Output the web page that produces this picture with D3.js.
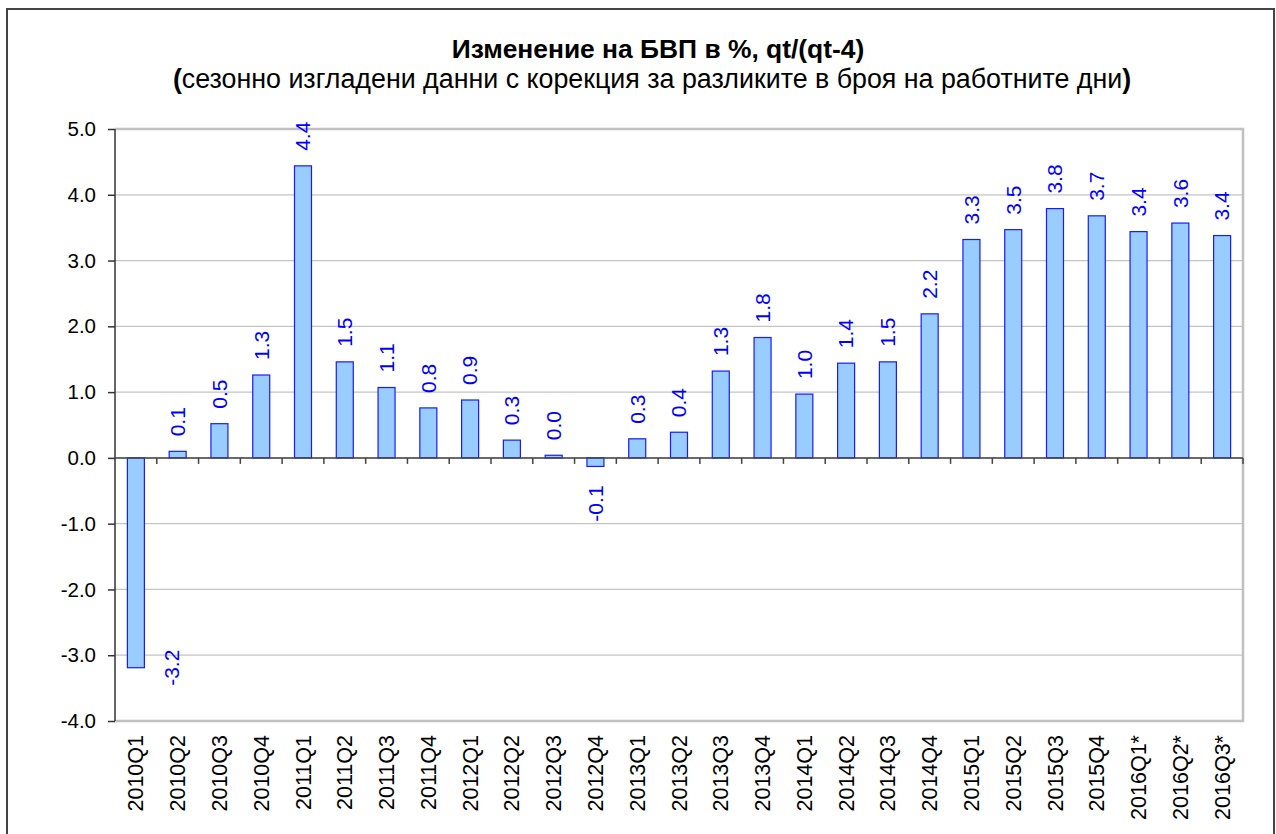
<!DOCTYPE html>
<html>
<head>
<meta charset="utf-8">
<script src="https://cdn.jsdelivr.net/npm/d3@7"></script>
<style>
  body { margin: 0; background: #fff; }
  svg { display: block; font-family: Arial, "Liberation Sans", sans-serif; }
</style>
</head>
<body>
<div id="chart"></div>
<script>
const width = 1276;
const height = 834;

// quarters on the x axis
const quarters = [
  '2010Q1', '2010Q2', '2010Q3', '2010Q4',
  '2011Q1', '2011Q2', '2011Q3', '2011Q4',
  '2012Q1', '2012Q2', '2012Q3', '2012Q4',
  '2013Q1', '2013Q2', '2013Q3', '2013Q4',
  '2014Q1', '2014Q2', '2014Q3', '2014Q4',
  '2015Q1', '2015Q2', '2015Q3', '2015Q4',
  '2016Q1*', '2016Q2*', '2016Q3*'
];

// GDP change, % y/y
const gdpChange = [
  -3.19, 0.10, 0.52, 1.26,
  4.44, 1.46, 1.07, 0.76,
  0.88, 0.27, 0.04, -0.13,
  0.29, 0.39, 1.32, 1.83,
  0.97, 1.44, 1.46, 2.19,
  3.32, 3.47, 3.79, 3.68,
  3.44, 3.57, 3.38
];

const yTicks = [-4, -3, -2, -1, 0, 1, 2, 3, 4, 5];

const title = 'Изменение на БВП в %, qt/(qt-4)';
const subtitle = 'сезонно изгладени данни с корекция за разликите в броя на работните дни';

const data = quarters.map((q, i) => ({ q, v: gdpChange[i] }));

// plain hyphen as minus sign, like the original
const locale = d3.formatLocale({
  decimal: '.', thousands: ',', grouping: [3], currency: ['', ''], minus: '-'
});
const fmt = locale.format('.1f');

function drawChart() {
  const plot = { left: 115, right: 1243, top: 129, bottom: 721 };

  const svg = d3.select('#chart')
    .append('svg')
    .attr('width', width)
    .attr('height', height);

  // outer chart border
  svg.append('rect')
    .attr('x', 7).attr('y', 9)
    .attr('width', 1267).attr('height', 850)
    .attr('fill', '#fff')
    .attr('stroke', '#444')
    .attr('stroke-width', 2);

  // titles
  svg.append('text')
    .attr('x', 658).attr('y', 58)
    .attr('text-anchor', 'middle')
    .style('font-size', '26.4px')
    .style('font-weight', 'bold')
    .text(title);

  const sub = svg.append('text')
    .attr('x', 652).attr('y', 88)
    .attr('text-anchor', 'middle')
    .style('font-size', '26.8px');
  sub.append('tspan').style('font-weight', 'bold').text('(');
  sub.append('tspan').text(subtitle);
  sub.append('tspan').style('font-weight', 'bold').text(')');

  const xScale = d3.scaleBand()
    .domain(quarters)
    .range([plot.left, plot.right])
    .paddingInner(0.593)
    .paddingOuter(0.2965);

  const yScale = d3.scaleLinear()
    .domain([-4, 5])
    .range([plot.bottom, plot.top]);

  // grid lines
  svg.append('g')
    .attr('class', 'grid')
    .selectAll('line')
    .data(yTicks)
    .join('line')
    .attr('x1', plot.left).attr('x2', plot.right)
    .attr('y1', d => yScale(d)).attr('y2', d => yScale(d))
    .attr('stroke', '#c4c4c4')
    .attr('stroke-width', 1.2);

  // plot area border (top, right, bottom)
  svg.append('path')
    .attr('d', `M${plot.left},${plot.top}H${plot.right}V${plot.bottom}H${plot.left}`)
    .attr('fill', 'none')
    .attr('stroke', '#c0c0c0')
    .attr('stroke-width', 2.5);

  // bars
  svg.append('g')
    .attr('class', 'bars')
    .selectAll('rect')
    .data(data)
    .join('rect')
    .attr('x', d => xScale(d.q))
    .attr('width', xScale.bandwidth())
    .attr('y', d => yScale(Math.max(0, d.v)))
    .attr('height', d => Math.abs(yScale(d.v) - yScale(0)))
    .attr('fill', '#99ccff')
    .attr('stroke', '#1a1aff')
    .attr('stroke-width', 1.2);

  // y axis
  const yAxis = d3.axisLeft(yScale)
    .tickValues(yTicks)
    .tickSize(7)
    .tickPadding(12)
    .tickFormat(fmt);

  svg.append('g')
    .attr('class', 'y-axis')
    .attr('transform', `translate(${plot.left},0)`)
    .call(yAxis)
    .call(g => g.selectAll('path, line').attr('stroke', '#333').attr('stroke-width', 1.5))
    .call(g => g.select('.domain').attr('d', `M0,${plot.top}V${plot.bottom}`))
    .call(g => g.selectAll('text')
      .attr('fill', '#000')
      .style('font-size', '20.5px')
      .style('font-family', 'Arial, "Liberation Sans", sans-serif'));

  // category axis on the zero line, ticks between categories
  const step = xScale.step();
  const bounds = quarters.map(q => xScale(q) + xScale.bandwidth() / 2 - step / 2);
  bounds.push(plot.right);

  const zeroY = yScale(0);
  const xAxisG = svg.append('g').attr('class', 'x-axis');
  xAxisG.append('line')
    .attr('x1', plot.left).attr('x2', plot.right)
    .attr('y1', zeroY).attr('y2', zeroY)
    .attr('stroke', '#444')
    .attr('stroke-width', 1.5);
  xAxisG.selectAll('.tick')
    .data(bounds.slice(1))
    .join('line')
    .attr('class', 'tick')
    .attr('x1', d => d).attr('x2', d => d)
    .attr('y1', zeroY).attr('y2', zeroY + 6)
    .attr('stroke', '#444')
    .attr('stroke-width', 1.5);

  // category labels, rotated, below the plot area
  svg.append('g')
    .attr('class', 'x-labels')
    .selectAll('text')
    .data(quarters)
    .join('text')
    .attr('transform', d => `translate(${xScale(d) + xScale.bandwidth() / 2},${plot.bottom + 14}) rotate(-90)`)
    .attr('text-anchor', 'end')
    .attr('dy', '0.35em')
    .style('font-size', '21.5px')
    .text(d => d);

  // value labels
  const labels = svg.append('g')
    .attr('class', 'values')
    .selectAll('text')
    .data(data)
    .join('text')
    .attr('fill', '#0000ff')
    .attr('dy', '0.35em')
    .style('font-size', '21px')
    .text(d => fmt(d.v));

  labels.each(function(d) {
    const t = d3.select(this);
    const cx = xScale(d.q) + xScale.bandwidth() / 2;
    const len = this.getComputedTextLength();
    if (d.v >= 0) {
      t.attr('text-anchor', 'start')
        .attr('transform', `translate(${cx},${yScale(d.v) - 15}) rotate(-90)`);
    } else if (yScale(d.v) + 19 + len > plot.bottom) {
      // no room below the bar: put it beside the bar end
      t.attr('text-anchor', 'middle')
        .attr('transform', `translate(${cx + 36},${yScale(d.v)}) rotate(-90)`);
    } else {
      t.attr('text-anchor', 'end')
        .attr('transform', `translate(${cx},${yScale(d.v) + 19}) rotate(-90)`);
    }
  });
}

drawChart();
</script>
</body>
</html>
